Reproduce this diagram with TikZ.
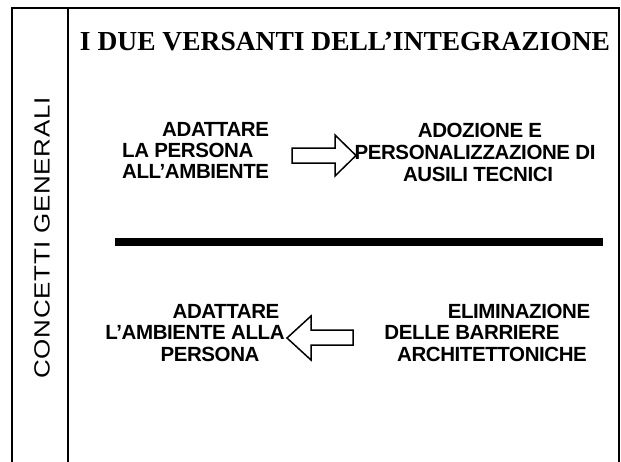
\documentclass[tikz,border=0pt]{standalone}
\usepackage{fontspec}
\setmainfont{Liberation Sans}
\newfontfamily\titlefont{Liberation Serif}
\newfontfamily\bodyfont[LetterSpace=-2]{Liberation Sans}
\newfontfamily\sidefont[FakeStretch=1.18,LetterSpace=3]{Liberation Sans}
\begin{document}
\begin{tikzpicture}[x=1pt,y=-1pt,
  frame/.style={line width=1.8pt,line cap=rect},
  txt/.style={font=\bodyfont\bfseries\fontsize{20.5}{22}\selectfont,inner sep=0pt,anchor=base west},
  ctxt/.style={font=\bodyfont\bfseries\fontsize{20.5}{22}\selectfont,inner sep=0pt,anchor=base},
  blockarrow/.style={line width=1.5pt,line join=miter}]
\useasboundingbox (0,0) rectangle (621,461);
% frame
\coordinate (bl) at (12,461);
\coordinate (tl) at (12,8);
\coordinate (tr) at (619,8);
\coordinate (br) at (619,461);
\coordinate (it) at (68,8);
\coordinate (ib) at (68,461);
\draw[frame] (bl) -- (tl) -- (tr) -- (br);
\draw[frame] (it) -- (ib);
% side label
\node[font=\sidefont\fontsize{22}{24}\selectfont,rotate=90,inner sep=0pt] (side) at (42,238) {CONCETTI GENERALI};
% title
\node[font=\titlefont\bfseries\fontsize{27.5}{30}\selectfont,inner sep=0pt,anchor=base] (title) at (345,50) {I DUE VERSANTI DELL’INTEGRAZIONE};
% upper left
\node[txt] (ul1) at (162,136) {ADATTARE};
\node[txt] (ul2) at (122,157) {LA PERSONA};
\node[txt] (ul3) at (122,178) {ALL’AMBIENTE};
% upper right
\node[ctxt] (ur1) at (480,137) {ADOZIONE E};
\node[ctxt] (ur2) at (475,159) {PERSONALIZZAZIONE DI};
\node[ctxt] (ur3) at (478,181) {AUSILI TECNICI};
% upper arrow
\draw[blockarrow] (292,148) coordinate (ua) -- (335,148) -- (335,135) -- (356,155.5) -- (335,176) -- (335,163) -- (292,163) -- cycle;
% divider
\coordinate (dl) at (115,242);
\coordinate (dr) at (603,242);
\draw[line width=8pt] (dl) -- (dr);
% lower left
\node[ctxt] (ll1) at (226,318) {ADATTARE};
\node[ctxt] (ll2) at (195,339) {L’AMBIENTE ALLA};
\node[ctxt] (ll3) at (210,361) {PERSONA};
% lower right
\node[ctxt] (lr1) at (519,318) {ELIMINAZIONE};
\node[ctxt] (lr2) at (472,339) {DELLE BARRIERE};
\node[ctxt] (lr3) at (492,361) {ARCHITETTONICHE};
% lower arrow
\draw[blockarrow] (353,330) coordinate (la) -- (311,330) -- (311,316) -- (287,338) -- (311,360) -- (311,345) -- (353,345) -- cycle;
\end{tikzpicture}
\end{document}
